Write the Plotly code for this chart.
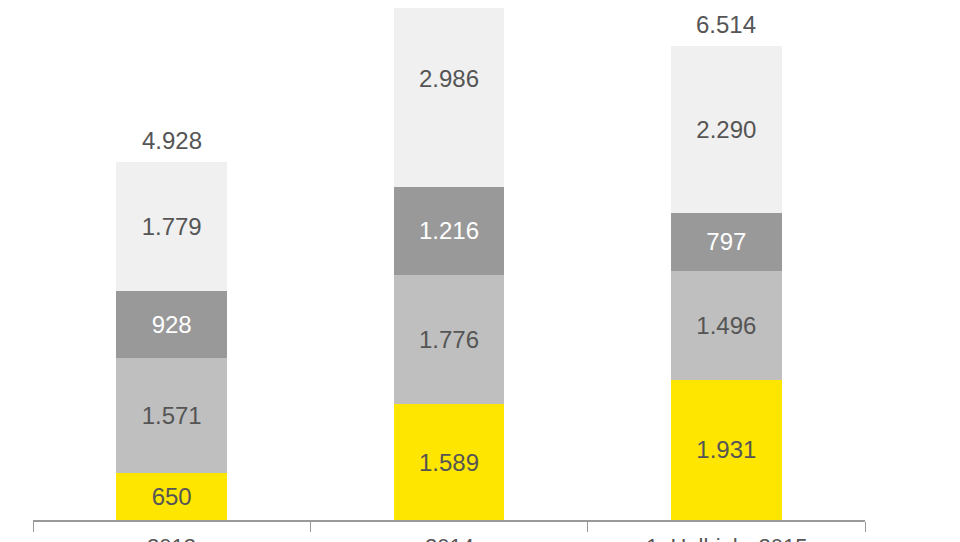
import plotly.graph_objects as go

categories = ["2013", "2014", "1. Halbjahr 2015"]
s1 = [650, 1589, 1931]
s2 = [1571, 1776, 1496]
s3 = [928, 1216, 797]
s4 = [1779, 2986, 2290]
totals = [4928, 7567, 6514]

def fmt(v):
    return f"{v:,}".replace(",", ".")

x = list(range(len(categories)))
fig = go.Figure()
series = [(s1, "#FFE600", "#555555"), (s2, "#BFBFBF", "#555555"),
          (s3, "#999999", "#FFFFFF"), (s4, "#F0F0F0", "#555555")]
for vals, col, tc in series:
    fig.add_bar(x=x, y=vals, marker=dict(color=col, line=dict(width=0)), width=0.4,
                text=[fmt(v) for v in vals], textposition="inside", insidetextanchor="middle",
                textfont=dict(color=tc, size=24, family="Liberation Sans"), showlegend=False)
for i, t in enumerate(totals):
    fig.add_annotation(x=i, y=t, text=fmt(t), showarrow=False, yanchor="bottom", yshift=6,
                       font=dict(size=24, color="#555555", family="Liberation Sans"))
    fig.add_annotation(x=i, y=0, text=categories[i], showarrow=False, yanchor="top", yshift=-12,
                       font=dict(size=22, color="#555555", family="Liberation Sans"))
fig.update_layout(barmode="stack", width=960, height=542, plot_bgcolor="white", paper_bgcolor="white",
                  margin=dict(l=25, r=103, t=0, b=30), uniformtext=dict(mode=False))
fig.update_xaxes(range=[-0.5, 2.5], tickvals=[-0.5, 0.5, 1.5, 2.5], showticklabels=False,
                 ticks="outside", ticklen=10, tickcolor="#999999", showline=True, linecolor="#999999",
                 linewidth=2, showgrid=False, zeroline=False)
fig.update_yaxes(range=[0, 7038], visible=False)
fig.write_html("out.html")
